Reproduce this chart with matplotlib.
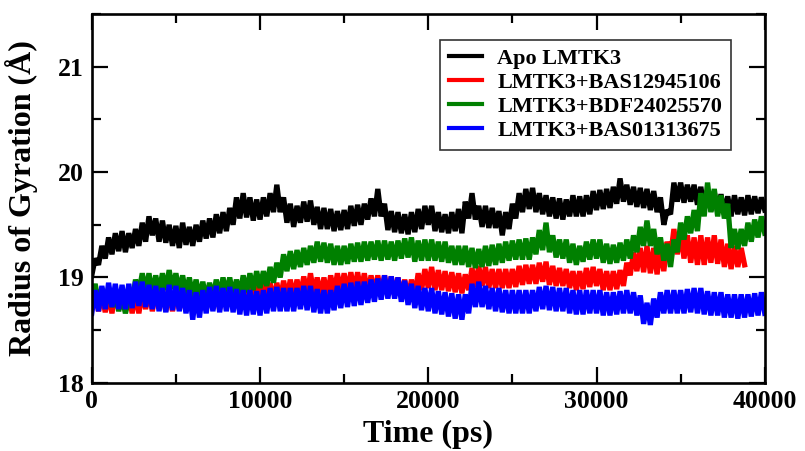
import numpy as np
import matplotlib
matplotlib.use("Agg")
import matplotlib.pyplot as plt
from matplotlib.ticker import MultipleLocator

plt.rcParams["font.family"] = ["Liberation Serif", "DejaVu Serif"]
plt.rcParams["font.weight"] = "bold"

# Radius of gyration (Å) sampled every 200 ps
dt = 200

apo = [
    19.02, 19.18, 19.12, 19.30, 19.18, 19.38, 19.22, 19.42, 19.25, 19.44,
    19.24, 19.42, 19.28, 19.46, 19.30, 19.52, 19.34, 19.58, 19.40, 19.56,
    19.34, 19.54, 19.33, 19.50, 19.30, 19.49, 19.28, 19.52, 19.31, 19.48,
    19.30, 19.50, 19.34, 19.54, 19.37, 19.56, 19.38, 19.60, 19.42, 19.62,
    19.44, 19.66, 19.50, 19.76, 19.56, 19.80, 19.57, 19.76, 19.54, 19.74,
    19.55, 19.76, 19.58, 19.80, 19.62, 19.88, 19.62, 19.76, 19.52, 19.70,
    19.48, 19.68, 19.52, 19.72, 19.53, 19.73, 19.50, 19.67, 19.46, 19.66,
    19.46, 19.65, 19.44, 19.63, 19.45, 19.64, 19.46, 19.68, 19.49, 19.69,
    19.50, 19.70, 19.55, 19.75, 19.58, 19.84, 19.58, 19.70, 19.45, 19.63,
    19.43, 19.62, 19.42, 19.60, 19.41, 19.62, 19.43, 19.65, 19.46, 19.68,
    19.50, 19.68, 19.44, 19.62, 19.43, 19.60, 19.42, 19.62, 19.44, 19.65,
    19.42, 19.72, 19.56, 19.80, 19.55, 19.68, 19.48, 19.68, 19.47, 19.66,
    19.47, 19.63, 19.40, 19.62, 19.46, 19.70, 19.56, 19.80, 19.62, 19.84,
    19.65, 19.85, 19.62, 19.80, 19.60, 19.78, 19.58, 19.76, 19.56, 19.75,
    19.55, 19.74, 19.58, 19.78, 19.58, 19.77, 19.58, 19.78, 19.60, 19.82,
    19.64, 19.83, 19.65, 19.84, 19.66, 19.86, 19.70, 19.94, 19.72, 19.88,
    19.69, 19.86, 19.67, 19.85, 19.66, 19.84, 19.64, 19.82, 19.62, 19.76,
    19.50, 19.64, 19.60, 19.90, 19.72, 19.90, 19.71, 19.88, 19.72, 19.88,
    19.69, 19.86, 19.66, 19.83, 19.63, 19.81, 19.62, 19.79, 19.60, 19.77,
    19.58, 19.78, 19.60, 19.76, 19.59, 19.78, 19.60, 19.77, 19.61, 19.76,
    19.64,
]

bas129 = [
    18.70, 18.88, 18.68, 18.85, 18.67, 18.84, 18.66, 18.86, 18.70, 18.88,
    18.68, 18.86, 18.66, 18.84, 18.66, 18.86, 18.70, 18.88, 18.68, 18.86,
    18.71, 18.90, 18.68, 18.86, 18.68, 18.88, 18.70, 18.86, 18.68, 18.86,
    18.67, 18.85, 18.68, 18.86, 18.69, 18.88, 18.70, 18.87, 18.70, 18.88,
    18.72, 18.90, 18.73, 18.92, 18.75, 18.94, 18.77, 18.97, 18.80, 18.99,
    18.81, 18.97, 18.78, 18.95, 18.77, 18.95, 18.78, 18.97, 18.80, 18.98,
    18.80, 18.98, 18.82, 19.01, 18.84, 19.04, 18.84, 19.00, 18.82, 19.00,
    18.82, 19.02, 18.85, 19.04, 18.86, 19.04, 18.86, 19.05, 18.86, 19.05,
    18.86, 19.04, 18.84, 19.02, 18.84, 19.02, 18.84, 19.02, 18.84, 19.01,
    18.83, 19.00, 18.82, 18.98, 18.80, 18.98, 18.82, 19.04, 18.88, 19.08,
    18.90, 19.10, 18.88, 19.07, 18.88, 19.06, 18.87, 19.05, 18.86, 19.04,
    18.85, 19.03, 18.88, 19.09, 18.91, 19.11, 18.92, 19.10, 18.90, 19.08,
    18.90, 19.08, 18.90, 19.08, 18.90, 19.08, 18.91, 19.11, 18.93, 19.12,
    18.94, 19.12, 18.94, 19.14, 18.96, 19.15, 18.93, 19.11, 18.92, 19.09,
    18.92, 19.08, 18.90, 19.06, 18.88, 19.06, 18.89, 19.09, 18.91, 19.10,
    18.92, 19.08, 18.88, 19.06, 18.88, 19.06, 18.89, 19.07, 18.92, 19.14,
    19.02, 19.24, 19.06, 19.28, 19.05, 19.30, 19.04, 19.28, 19.03, 19.28,
    19.06, 19.34, 19.20, 19.46, 19.22, 19.42, 19.18, 19.40, 19.14, 19.38,
    19.12, 19.40, 19.12, 19.38, 19.14, 19.40, 19.13, 19.36, 19.10, 19.32,
    19.08, 19.30, 19.10, 19.28, 19.12,
]

bdf240 = [
    18.78, 18.94, 18.76, 18.90, 18.74, 18.90, 18.72, 18.86, 18.68, 18.82,
    18.66, 18.80, 18.76, 18.98, 18.86, 19.04, 18.87, 19.04, 18.84, 19.02,
    18.86, 19.04, 18.88, 19.07, 18.89, 19.04, 18.86, 19.02, 18.84, 19.00,
    18.82, 18.98, 18.80, 18.96, 18.79, 18.95, 18.80, 18.98, 18.82, 19.00,
    18.84, 19.00, 18.82, 18.98, 18.83, 19.02, 18.86, 19.04, 18.88, 19.06,
    18.90, 19.06, 18.92, 19.10, 18.95, 19.14, 19.00, 19.22, 19.06, 19.25,
    19.08, 19.26, 19.10, 19.28, 19.12, 19.30, 19.14, 19.34, 19.15, 19.33,
    19.14, 19.32, 19.12, 19.30, 19.12, 19.30, 19.13, 19.32, 19.15, 19.33,
    19.15, 19.34, 19.16, 19.34, 19.17, 19.35, 19.16, 19.35, 19.17, 19.34,
    19.16, 19.35, 19.18, 19.37, 19.19, 19.38, 19.15, 19.35, 19.16, 19.36,
    19.16, 19.36, 19.16, 19.34, 19.15, 19.34, 19.14, 19.30, 19.12, 19.30,
    19.12, 19.30, 19.10, 19.28, 19.09, 19.27, 19.10, 19.30, 19.11, 19.31,
    19.12, 19.32, 19.14, 19.34, 19.16, 19.35, 19.17, 19.36, 19.17, 19.37,
    19.17, 19.38, 19.22, 19.45, 19.26, 19.52, 19.24, 19.40, 19.19, 19.36,
    19.18, 19.36, 19.14, 19.32, 19.12, 19.30, 19.15, 19.34, 19.17, 19.36,
    19.18, 19.36, 19.14, 19.32, 19.13, 19.31, 19.14, 19.33, 19.16, 19.36,
    19.18, 19.40, 19.24, 19.48, 19.30, 19.54, 19.30, 19.46, 19.22, 19.38,
    19.16, 19.32, 19.10, 19.36, 19.24, 19.52, 19.36, 19.58, 19.42, 19.64,
    19.44, 19.80, 19.58, 19.90, 19.62, 19.84, 19.58, 19.78, 19.56, 19.70,
    19.28, 19.46, 19.27, 19.46, 19.30, 19.52, 19.34, 19.55, 19.38, 19.58,
    19.42,
]

bas013 = [
    18.66, 18.88, 18.68, 18.92, 18.70, 18.95, 18.72, 18.94, 18.70, 18.93,
    18.70, 18.94, 18.71, 18.96, 18.73, 18.96, 18.72, 18.93, 18.70, 18.92,
    18.68, 18.90, 18.67, 18.93, 18.69, 18.92, 18.68, 18.90, 18.66, 18.88,
    18.60, 18.86, 18.62, 18.88, 18.66, 18.91, 18.68, 18.92, 18.67, 18.90,
    18.68, 18.91, 18.67, 18.89, 18.65, 18.88, 18.64, 18.88, 18.65, 18.87,
    18.64, 18.88, 18.66, 18.90, 18.68, 18.91, 18.68, 18.90, 18.68, 18.90,
    18.68, 18.90, 18.70, 18.92, 18.69, 18.92, 18.67, 18.89, 18.66, 18.88,
    18.66, 18.88, 18.69, 18.92, 18.71, 18.94, 18.72, 18.95, 18.73, 18.96,
    18.74, 18.96, 18.76, 18.98, 18.77, 18.99, 18.79, 19.02, 18.80, 19.01,
    18.80, 19.00, 18.77, 18.97, 18.74, 18.94, 18.71, 18.92, 18.69, 18.90,
    18.68, 18.90, 18.66, 18.87, 18.65, 18.86, 18.63, 18.85, 18.61, 18.84,
    18.60, 18.84, 18.66, 18.94, 18.72, 18.96, 18.72, 18.92, 18.70, 18.90,
    18.68, 18.90, 18.67, 18.88, 18.66, 18.88, 18.66, 18.88, 18.66, 18.88,
    18.66, 18.88, 18.68, 18.91, 18.70, 18.92, 18.69, 18.91, 18.68, 18.90,
    18.68, 18.90, 18.66, 18.88, 18.65, 18.88, 18.65, 18.88, 18.66, 18.88,
    18.66, 18.88, 18.64, 18.86, 18.64, 18.86, 18.65, 18.87, 18.66, 18.88,
    18.66, 18.86, 18.64, 18.83, 18.56, 18.76, 18.55, 18.80, 18.62, 18.86,
    18.66, 18.88, 18.66, 18.88, 18.66, 18.88, 18.66, 18.89, 18.67, 18.90,
    18.66, 18.90, 18.65, 18.87, 18.64, 18.86, 18.64, 18.86, 18.62, 18.84,
    18.62, 18.84, 18.61, 18.84, 18.62, 18.84, 18.63, 18.85, 18.64, 18.86,
    18.66,
]

series = [
    ("Apo LMTK3", apo, "#000000"),
    ("LMTK3+BAS12945106", bas129, "#ff0000"),
    ("LMTK3+BDF24025570", bdf240, "#008000"),
    ("LMTK3+BAS01313675", bas013, "#0000ff"),
]

fig = plt.figure(figsize=(8.05, 4.51), dpi=100)
ax = fig.add_axes([0.114, 0.151, 0.836, 0.818])

for label, vals, color in series:
    t = np.arange(len(vals)) * dt
    ax.plot(t, vals, color=color, lw=3.8, label=label,
            solid_joinstyle="bevel")

ax.set_xlim(0, 40000)
ax.set_ylim(18, 21.5)
ax.xaxis.set_major_locator(MultipleLocator(10000))
ax.xaxis.set_minor_locator(MultipleLocator(5000))
ax.yaxis.set_major_locator(MultipleLocator(1))
ax.yaxis.set_minor_locator(MultipleLocator(0.5))

ax.tick_params(which="both", direction="in", top=True, right=True,
               width=1.6, labelsize=18.5)
ax.tick_params(which="major", length=11.5)
ax.tick_params(which="minor", length=6.5)
ax.tick_params(axis="x", pad=5)
ax.tick_params(axis="y", pad=6)
for lab in ax.get_xticklabels() + ax.get_yticklabels():
    lab.set_fontweight("bold")
for sp in ax.spines.values():
    sp.set_linewidth(1.9)

ax.set_xlabel("Time (ps)", fontsize=23, fontweight="bold", labelpad=5)
ax.set_ylabel("Radius of Gyration (Å)", fontsize=23, fontweight="bold", labelpad=14)

leg = ax.legend(loc="upper left", bbox_to_anchor=(0.517, 0.93),
                borderaxespad=0, fancybox=False, frameon=True,
                prop={"size": 16, "weight": "bold"},
                handlelength=1.5, handletextpad=0.7, labelspacing=0.15,
                borderpad=0.4)
leg.get_frame().set_edgecolor("black")
leg.get_frame().set_linewidth(1.2)
for ln in leg.get_lines():
    ln.set_linewidth(3)

fig.savefig("out.png", dpi=100)
